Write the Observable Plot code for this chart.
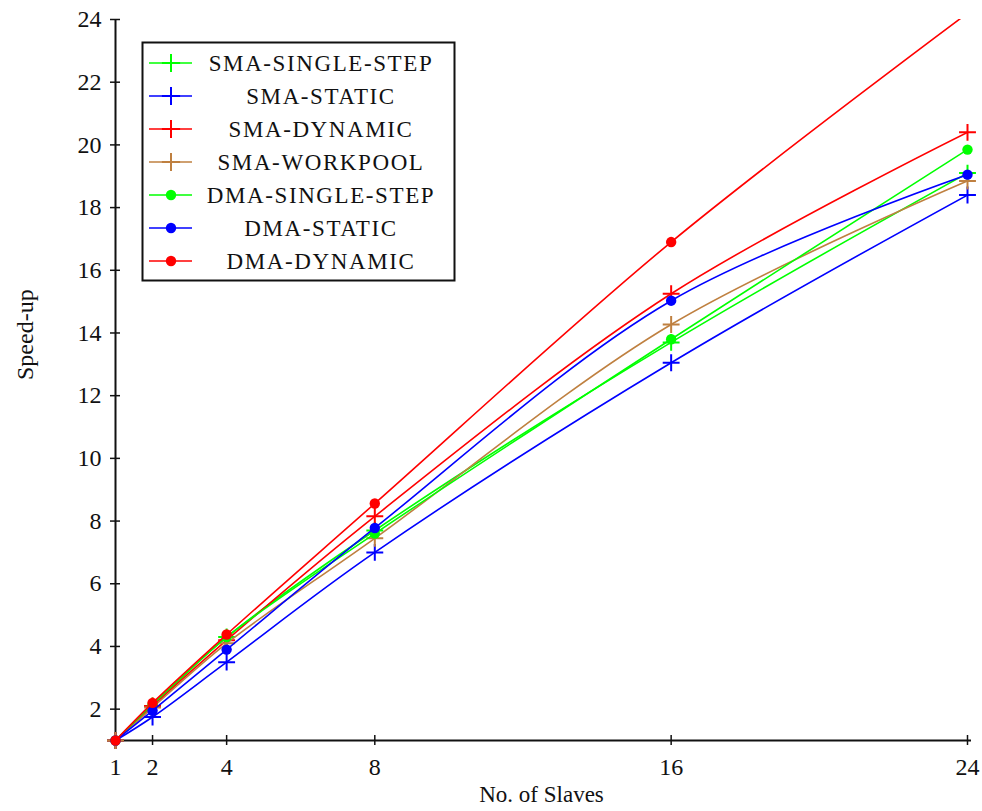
<!DOCTYPE html>
<html>
<head>
<meta charset="utf-8">
<script src="https://cdn.jsdelivr.net/npm/d3@7"></script>
<script src="https://cdn.jsdelivr.net/npm/@observablehq/plot@0.6"></script>
<style>
  html, body { margin: 0; padding: 0; background: #fff; overflow: hidden; }
  #wrap { position: relative; width: 982px; height: 811px; }
  #legend { position: absolute; left: 0; top: 0; pointer-events: none; }
</style>
</head>
<body>
<div id="wrap"></div>
<script>
// ---- data ----
const slaves = [1, 2, 4, 8, 16, 24];
const xTicks = [1, 2, 4, 8, 16, 24];
const yTicks = [2, 4, 6, 8, 10, 12, 14, 16, 18, 20, 22, 24];

const seriesNames = ["SMA-SINGLE-STEP", "SMA-STATIC", "SMA-DYNAMIC", "SMA-WORKPOOL",
                     "DMA-SINGLE-STEP", "DMA-STATIC", "DMA-DYNAMIC"];
const seriesColors = ["#00ff00", "#0000ff", "#ff0000", "#bf8040",
                      "#00ff00", "#0000ff", "#ff0000"];
const seriesSymbols = ["plus", "plus", "plus", "plus", "circle", "circle", "circle"];

const smaSingleStep = [1, 2.1, 4.3, 7.7, 13.7, 19.1];
const smaStatic     = [1, 1.75, 3.5, 7.0, 13.05, 18.4];
const smaDynamic    = [1, 2.1, 4.2, 8.15, 15.25, 20.4];
const smaWorkpool   = [1, 2.05, 4.1, 7.45, 14.27, 18.85];
const dmaSingleStep = [1, 2.15, 4.3, 7.6, 13.8, 19.85];
const dmaStatic     = [1, 1.95, 3.9, 7.78, 15.03, 19.05];
const dmaDynamic    = [1, 2.2, 4.38, 8.56, 16.9, 24.2];

const seriesValues = [smaSingleStep, smaStatic, smaDynamic, smaWorkpool,
                      dmaSingleStep, dmaStatic, dmaDynamic];

const xLabel = "No. of Slaves";
const yLabel = "Speed-up";

// ---- build ----
const FONT = "'Liberation Serif', 'DejaVu Serif', serif";
const yMax = 24;

const marks = [];
seriesNames.forEach((name, i) => {
  const rows = slaves.map((x, j) => ({series: name, x, y: seriesValues[i][j]}));
  marks.push(Plot.line(rows, {x: "x", y: "y", stroke: seriesColors[i], strokeWidth: 1.6, curve: "catmull-rom", clip: true}));
  const visible = rows.filter(d => d.y <= yMax);
  if (seriesSymbols[i] === "plus") {
    marks.push(Plot.dot(visible, {x: "x", y: "y", symbol: "plus", r: 5.5, stroke: seriesColors[i], strokeWidth: 2, fill: "none"}));
  } else {
    marks.push(Plot.dot(visible, {x: "x", y: "y", symbol: "circle", r: 5.2, fill: seriesColors[i], stroke: "none"}));
  }
});

const chart = Plot.plot({
  width: 982,
  height: 811,
  marginLeft: 115,
  marginRight: 15,
  marginTop: 19,
  marginBottom: 71,
  style: {fontFamily: FONT, background: "#fff", color: "#111"},
  x: {domain: [1, 24]},
  y: {domain: [1, 24]},
  marks: [
    Plot.axisX(xTicks, {tickSize: 0, tickPadding: 17, fontSize: 24, label: null, fill: "#111"}),
    Plot.axisY(yTicks, {tickSize: 0, tickPadding: 14, fontSize: 24, label: null, fill: "#111"}),
    // axis lines
    Plot.ruleX([1], {y1: 1, y2: 24, stroke: "#111", strokeWidth: 2, insetTop: -1}),
    Plot.ruleY([1], {x1: 1, x2: 24, stroke: "#111", strokeWidth: 2, insetRight: -4}),
    // crossing ticks
    Plot.ruleX(xTicks, {x: d => d, y1: 1, y2: 1, insetTop: -5, insetBottom: -5, stroke: "#111", strokeWidth: 1.5}),
    Plot.ruleY(yTicks, {y: d => d, x1: 1, x2: 1, insetLeft: -5, insetRight: -5, stroke: "#111", strokeWidth: 1.5}),
    ...marks,
    Plot.text([xLabel], {text: d => d, frameAnchor: "bottom", lineAnchor: "top", dy: 45, fontSize: 23, fill: "#111"}),
    Plot.text([yLabel], {text: d => d, frameAnchor: "left", dx: -90, rotate: -90, fontSize: 24, fill: "#111"})
  ]
});

const wrap = document.getElementById("wrap");
wrap.appendChild(chart);

// ---- legend overlay ----
const lg = d3.select(wrap).append("svg")
  .attr("id", "legend")
  .attr("width", 982).attr("height", 811);

lg.append("rect")
  .attr("x", 142.5).attr("y", 42.5).attr("width", 312).attr("height", 238)
  .attr("fill", "#fff").attr("stroke", "#111").attr("stroke-width", 2);

seriesNames.forEach((name, i) => {
  const cy = 63 + i * 33;
  const g = lg.append("g");
  g.append("line").attr("x1", 149).attr("x2", 192).attr("y1", cy).attr("y2", cy)
    .attr("stroke", seriesColors[i]).attr("stroke-width", 1.6);
  if (seriesSymbols[i] === "plus") {
    g.append("path").attr("d", d3.symbol(d3.symbolPlus, 110)())
      .attr("transform", `translate(171,${cy})`)
      .attr("fill", "none").attr("stroke", seriesColors[i]).attr("stroke-width", 2);
  } else {
    g.append("circle").attr("cx", 171).attr("cy", cy).attr("r", 5.2).attr("fill", seriesColors[i]);
  }
  g.append("text").attr("x", 321).attr("y", cy).attr("dy", "0.34em")
    .attr("text-anchor", "middle")
    .attr("font-family", FONT).attr("font-size", 23)
    .attr("letter-spacing", "1.6px")
    .attr("fill", "#111")
    .text(name);
});
</script>
</body>
</html>
